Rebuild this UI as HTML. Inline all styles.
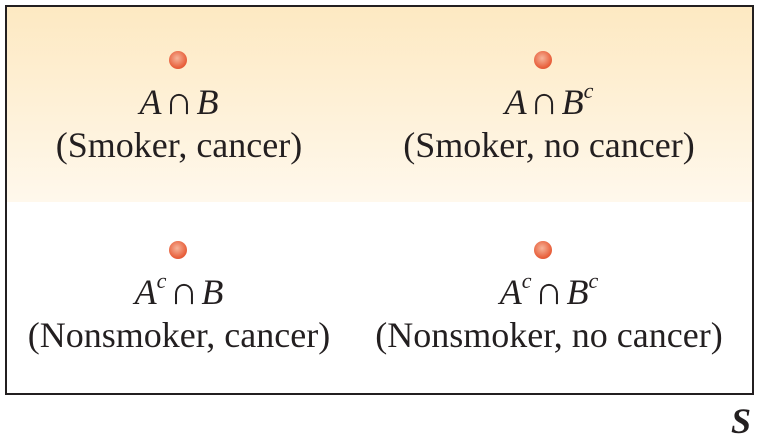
<!DOCTYPE html>
<html><head><style>
body{margin:0;width:759px;height:444px;background:#fff;position:relative;overflow:hidden;font-family:"Liberation Serif",serif;color:#231f20}
#box{position:absolute;left:5px;top:5px;width:745px;height:386px;border:2.5px solid #231f20;}
#grad{position:absolute;left:0;top:0;width:745px;height:195px;background:linear-gradient(#fde9c2,#fff8ec);}
.dot{position:absolute;width:18px;height:18px;border-radius:50%;background:radial-gradient(circle at 45% 40%,#f6b49a,#e8603c 65%,#d8442a);}
.t{position:absolute;width:360px;text-align:center;font-size:36px;line-height:43px}
.m{font-style:italic}
.c{font-size:40px;margin:0 3px}
sup{font-size:22px;vertical-align:16px;line-height:0}
</style></head><body>
<div id="box"><div id="grad"></div></div>
<div class="dot" style="left:169px;top:51px"></div>
<div class="dot" style="left:534px;top:51px"></div>
<div class="dot" style="left:169px;top:241px"></div>
<div class="dot" style="left:534px;top:241px"></div>
<div class="t" style="left:-1px;top:79px"><span class="m">A</span><span class="c">∩</span><span class="m">B</span><br>(Smoker, cancer)</div>
<div class="t" style="left:369px;top:79px"><span class="m">A</span><span class="c">∩</span><span class="m">B<sup>c</sup></span><br>(Smoker, no cancer)</div>
<div class="t" style="left:-1px;top:269px"><span class="m">A<sup>c</sup></span><span class="c">∩</span><span class="m">B</span><br>(Nonsmoker, cancer)</div>
<div class="t" style="left:369px;top:269px"><span class="m">A<sup>c</sup></span><span class="c">∩</span><span class="m">B<sup>c</sup></span><br>(Nonsmoker, no cancer)</div>
<div style="position:absolute;left:731px;top:400px;font-size:36px;font-weight:bold;font-style:italic">S</div>
</body></html>
